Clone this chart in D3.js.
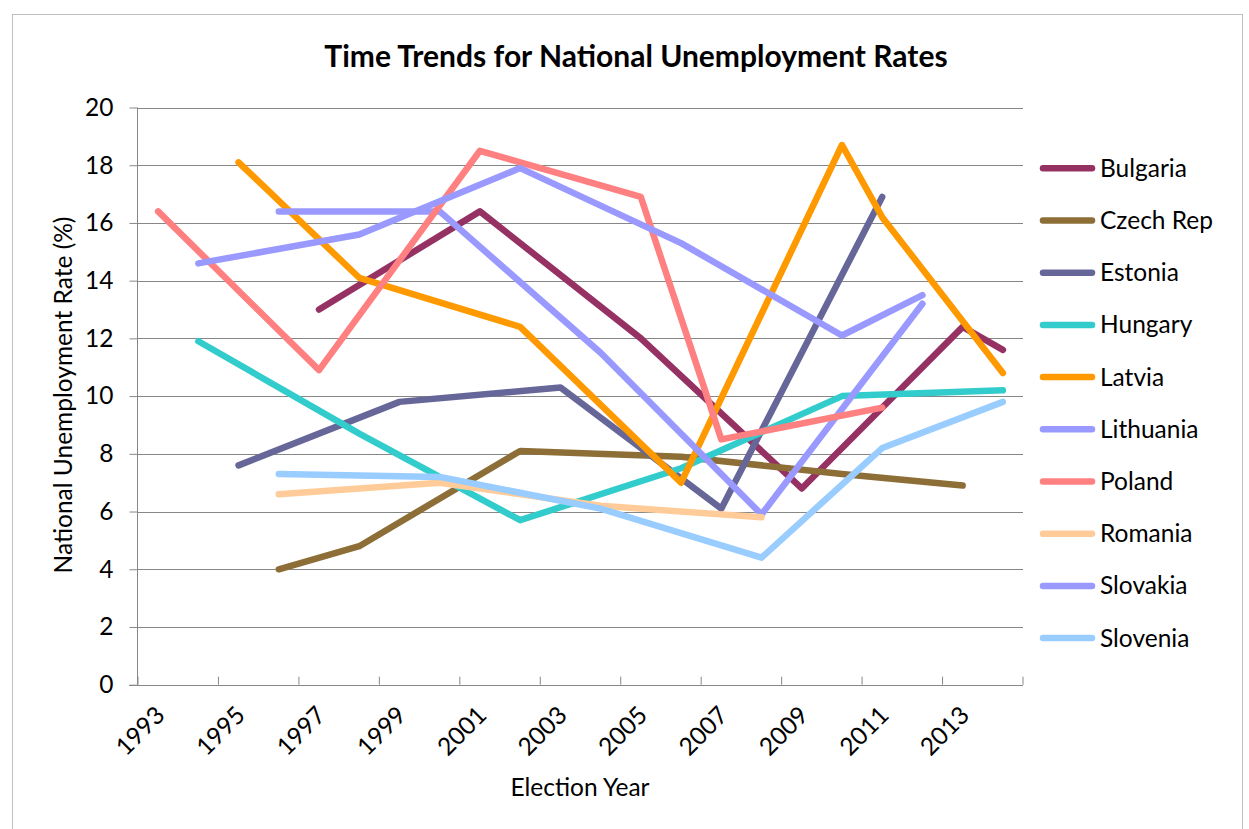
<!DOCTYPE html>
<html>
<head>
<meta charset="utf-8">
<script src="https://cdn.jsdelivr.net/npm/d3@7/dist/d3.min.js"></script>
<style>
  html, body { margin: 0; padding: 0; background: #fff; }
  svg { display: block; font-family: Lato, "Open Sans", sans-serif; }
</style>
</head>
<body>
<svg id="chart" width="1249" height="829"></svg>
<script>
// ---- data ----
const years = d3.range(1993, 2015);
const tickLabels = ["1993","1995","1997","1999","2001","2003","2005","2007","2009","2011","2013"];
const yTicks = [0,2,4,6,8,10,12,14,16,18,20];
const countries = ["Bulgaria","Czech Rep","Estonia","Hungary","Latvia","Lithuania","Poland","Romania","Slovakia","Slovenia"];
const colors = ["#953263","#8D6E37","#666699","#33CCCC","#FF9900","#9999FF","#FF8080","#FFCC99","#9999FF","#99CCFF"];

const bulgaria  = [[1997,13.0],[2001,16.4],[2005,12.0],[2009,6.8],[2013,12.4],[2014,11.6]];
const czechRep  = [[1996,4.0],[1998,4.8],[2002,8.1],[2006,7.9],[2010,7.3],[2013,6.9]];
const estonia   = [[1995,7.6],[1999,9.8],[2003,10.3],[2007,6.1],[2011,16.9]];
const hungary   = [[1994,11.9],[1998,8.7],[2002,5.7],[2006,7.5],[2010,10.0],[2014,10.2]];
const latvia    = [[1995,18.1],[1998,14.1],[2002,12.4],[2006,7.0],[2010,18.7],[2011,16.2],[2014,10.8]];
const lithuania = [[1996,16.4],[2000,16.4],[2004,11.5],[2008,5.9],[2012,13.2]];
const poland    = [[1993,16.4],[1997,10.9],[2001,18.5],[2005,16.9],[2007,8.5],[2011,9.6]];
const romania   = [[1996,6.6],[2000,7.0],[2004,6.2],[2008,5.8]];
const slovakia  = [[1994,14.6],[1998,15.6],[2002,17.9],[2006,15.3],[2010,12.1],[2012,13.5]];
const slovenia  = [[1996,7.3],[2000,7.2],[2004,6.1],[2008,4.4],[2011,8.2],[2014,9.8]];
const seriesValues = [bulgaria, czechRep, estonia, hungary, latvia, lithuania, poland, romania, slovakia, slovenia];

// ---- layout ----
const svg = d3.select("#chart");
const pL = 138, pR = 1023, pT = 107.5, pB = 684.7;
const fs = 24.5;

svg.append("rect").attr("x", 12.5).attr("y", 14.5).attr("width", 1230).attr("height", 830)
  .attr("fill", "#fff").attr("stroke", "#BFBFBF").attr("stroke-width", 1);

const x = d3.scaleBand().domain(years).range([pL, pR]);
const y = d3.scaleLinear().domain([0, 20]).range([pB, pT]);

// gridlines
svg.append("g").selectAll("line").data(yTicks.filter(d => d > 0)).join("line")
  .attr("x1", pL).attr("x2", pR)
  .attr("y1", d => Math.round(y(d)) + 0.5).attr("y2", d => Math.round(y(d)) + 0.5)
  .attr("stroke", "#878787").attr("stroke-width", 1);

// y axis
const yAxis = d3.axisLeft(y).tickValues(yTicks).tickSize(8).tickPadding(16);
const yg = svg.append("g").attr("transform", `translate(${pL - 0.5},0)`).call(yAxis);
yg.select(".domain").attr("stroke", "#878787").attr("d", `M0,${pT}V${pB}`);
yg.selectAll(".tick line").attr("stroke", "#878787");
yg.selectAll(".tick text").attr("font-size", fs).attr("fill", "#000")
  .attr("font-family", "Lato, sans-serif");

// x axis: ticks every 2 categories
const xTickPos = d3.range(0, 12).map(i => pL + i * 2 * x.bandwidth());
const xg = svg.append("g");
xg.append("line").attr("x1", pL - 9).attr("x2", pR).attr("y1", Math.round(pB) + 0.5).attr("y2", Math.round(pB) + 0.5)
  .attr("stroke", "#878787");
xg.selectAll("line.tk").data(xTickPos).join("line").attr("class", "tk")
  .attr("x1", d => d).attr("x2", d => d)
  .attr("y1", pB - 8).attr("y2", pB).attr("stroke", "#878787");
xg.selectAll("text").data(tickLabels).join("text")
  .attr("transform", d => `translate(${x(+d) + x.bandwidth() / 2 + 2},${pB + 26}) rotate(-45)`)
  .attr("text-anchor", "end").attr("dy", "0.35em")
  .attr("font-size", fs).attr("fill", "#000").text(d => d);

// lines
const line = d3.line().x(d => x(d[0]) + x.bandwidth() / 2).y(d => y(d[1]));
svg.append("g").selectAll("path").data(seriesValues).join("path")
  .attr("d", d => line(d)).attr("fill", "none")
  .attr("stroke", (d, i) => colors[i]).attr("stroke-width", 6.5)
  .attr("stroke-linecap", "round").attr("stroke-linejoin", "round");

// title
svg.append("text").attr("x", 636).attr("y", 67).attr("text-anchor", "middle")
  .attr("font-size", 30).attr("font-weight", "bold").attr("fill", "#000")
  .text("Time Trends for National Unemployment Rates");

// axis titles
svg.append("text").attr("x", 580).attr("y", 796).attr("text-anchor", "middle")
  .attr("font-size", fs).attr("fill", "#000").text("Election Year");
svg.append("text").attr("transform", "translate(72,395) rotate(-90)").attr("text-anchor", "middle")
  .attr("font-size", fs).attr("fill", "#000").text("National Unemployment Rate (%)");

// legend
const lg = svg.append("g").selectAll("g").data(countries).join("g")
  .attr("transform", (d, i) => `translate(1040,${168.3 + i * 52.2})`);
lg.append("line").attr("x1", 3).attr("x2", 52).attr("stroke", (d, i) => colors[i])
  .attr("stroke-width", 6.5).attr("stroke-linecap", "round");
lg.append("text").attr("x", 60).attr("dy", "0.35em").attr("font-size", fs).attr("fill", "#000").text(d => d);
</script>
</body>
</html>
